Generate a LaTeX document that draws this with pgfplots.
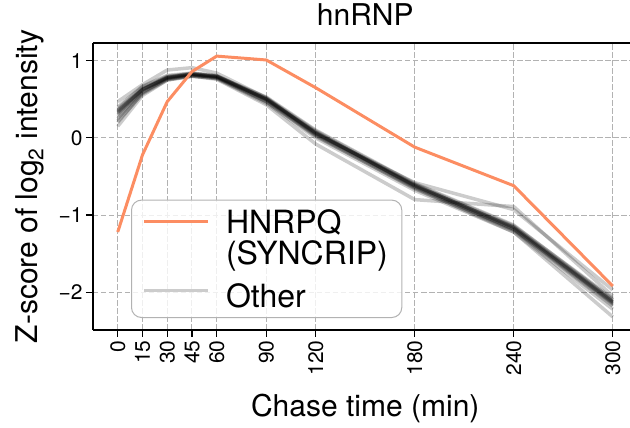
\documentclass[border=0pt]{standalone}
\usepackage{fontspec}
\setmainfont{TeX Gyre Heros}
\usepackage{pgfplots}
\pgfplotsset{compat=1.18}
\definecolor{hnrpq}{HTML}{FC8D62}
\begin{document}
\begin{tikzpicture}
\useasboundingbox (-93pt,-98pt) rectangle (537pt,330pt);
\clip (-93pt,-98pt) rectangle (537pt,330pt);
\begin{axis}[
  at={(0pt,0pt)}, anchor=south west,
  scale only axis, width=544.5pt, height=287pt,
  xmin=-15, xmax=315, ymin=-2.49, ymax=1.23,
  axis x line*=box, axis y line*=left,
  tick align=outside, tick pos=left,
  major tick length=7pt,
  every tick/.style={black, line width=1.2pt},
  axis line style={line width=1.2pt},
  xtick={0,15,30,45,60,90,120,180,240,300},
  xticklabels={0,15,30,45,60,90,120,180,240,300},
  xticklabel style={rotate=90, anchor=east, font=\fontsize{21}{21}\selectfont},
  ytick={-2,-1,0,1}, yticklabels={−2,−1,0,1},
  yticklabel style={font=\fontsize{21}{21}\selectfont},
  grid=major, grid style={black!30, line width=1pt, dash pattern=on 5.5pt off 2.5pt},
  title={hnRNP},
  title style={at={(axis description cs:0.5,1.040)}, anchor=base, font=\fontsize{30}{30}\selectfont},
  xlabel={Chase time (min)},
  xlabel style={at={(axis description cs:0.5,-0.303)}, anchor=base, font=\fontsize{30}{30}\selectfont},
  ylabel={Z-score of log\textsubscript{2} intensity},
  ylabel style={at={(axis description cs:-0.1028,0.5)}, anchor=base, font=\fontsize{30}{30}\selectfont},
  legend style={at={(axis description cs:0.0698,0.0418)}, anchor=south west,
    draw=black!30, line width=1pt, fill=white, fill opacity=0.8, text opacity=1,
    rounded corners=10pt, font=\fontsize{32}{32}\selectfont,
    row sep=0pt, column sep=13pt, nodes={inner sep=3pt}, inner xsep=11pt, inner ysep=6pt},
  legend cell align=left,
  legend image code/.code={\draw[#1] (0pt,0pt) -- (64pt,0pt);},
  other/.style={black, opacity=0.2, line width=3.5pt, forget plot},
]
\addlegendimage{hnrpq, line width=3pt}
\addlegendentry{\rule{0pt}{24pt}HNRPQ}
\addlegendimage{empty legend}
\addlegendentry{(SYNCRIP)}
\addlegendimage{black!20, line width=3.5pt}
\addlegendentry{\rule{0pt}{35pt}Other}

\addplot[other] coordinates {(0,0.47) (15,0.69) (30,0.88) (45,0.91) (60,0.84) (90,0.52) (120,0.05) (180,-0.58) (240,-0.93) (300,-1.97)};
\addplot[other] coordinates {(0,0.20) (15,0.58) (30,0.76) (45,0.80) (60,0.76) (90,0.43) (120,-0.08) (180,-0.80) (240,-0.89) (300,-2.05)};
\addplot[other] coordinates {(0,0.15) (15,0.55) (30,0.75) (45,0.80) (60,0.77) (90,0.47) (120,0.02) (180,-0.65) (240,-1.22) (300,-2.32)};
\addplot[other] coordinates {(0,0.30) (15,0.62) (30,0.78) (45,0.83) (60,0.80) (90,0.50) (120,0.07) (180,-0.61) (240,-1.16) (300,-2.12)};
\addplot[other] coordinates {(0,0.36) (15,0.64) (30,0.79) (45,0.82) (60,0.78) (90,0.51) (120,0.08) (180,-0.63) (240,-1.18) (300,-2.15)};
\addplot[other] coordinates {(0,0.33) (15,0.63) (30,0.77) (45,0.81) (60,0.79) (90,0.49) (120,0.05) (180,-0.62) (240,-1.15) (300,-2.10)};
\addplot[other] coordinates {(0,0.38) (15,0.66) (30,0.80) (45,0.83) (60,0.80) (90,0.52) (120,0.09) (180,-0.60) (240,-1.14) (300,-2.08)};
\addplot[other] coordinates {(0,0.28) (15,0.60) (30,0.76) (45,0.81) (60,0.79) (90,0.48) (120,0.04) (180,-0.64) (240,-1.19) (300,-2.16)};
\addplot[other] coordinates {(0,0.35) (15,0.63) (30,0.79) (45,0.84) (60,0.81) (90,0.50) (120,0.06) (180,-0.61) (240,-1.17) (300,-2.14)};
\addplot[other] coordinates {(0,0.25) (15,0.59) (30,0.77) (45,0.82) (60,0.78) (90,0.47) (120,0.03) (180,-0.66) (240,-1.20) (300,-2.18)};
\addplot[other] coordinates {(0,0.40) (15,0.67) (30,0.81) (45,0.84) (60,0.80) (90,0.53) (120,0.10) (180,-0.59) (240,-1.13) (300,-2.10)};
\addplot[other] coordinates {(0,0.32) (15,0.62) (30,0.78) (45,0.82) (60,0.80) (90,0.50) (120,0.07) (180,-0.62) (240,-1.16) (300,-2.12)};
\addplot[other] coordinates {(0,0.34) (15,0.63) (30,0.78) (45,0.83) (60,0.79) (90,0.51) (120,0.06) (180,-0.63) (240,-1.18) (300,-2.13)};
\addplot[other] coordinates {(0,0.22) (15,0.57) (30,0.75) (45,0.80) (60,0.77) (90,0.45) (120,0.00) (180,-0.68) (240,-1.22) (300,-2.22)};

\addplot[hnrpq, line width=3pt, forget plot] coordinates {(0,-1.22) (15,-0.22) (30,0.47) (45,0.86) (60,1.06) (90,1.01) (120,0.65) (180,-0.12) (240,-0.62) (300,-1.92)};
\end{axis}
\end{tikzpicture}
\end{document}
